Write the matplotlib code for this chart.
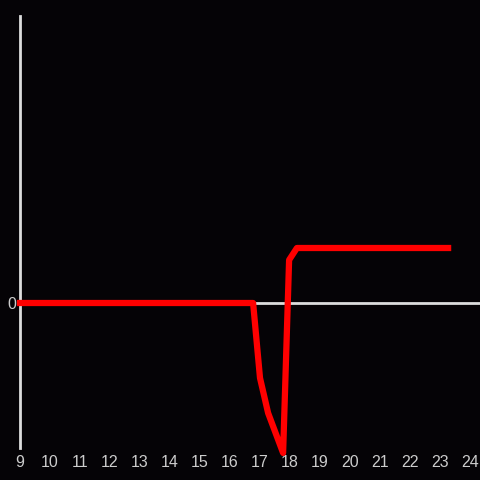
import matplotlib
matplotlib.use("Agg")
import matplotlib.pyplot as plt

# hours of day and the measured value
hours = [9.0, 16.77, 17.0, 17.27, 17.77, 17.97, 18.23, 23.27]
values = [0, 0, -75, -110, -150, 43, 55, 55]
tick_hours = list(range(9, 25))

bg = "#050306"
axis_color = "#dddddd"
text_color = "#cccccc"

fig = plt.figure(figsize=(4.8, 4.8), dpi=100, facecolor=bg)
ax = fig.add_axes([20 / 480, 32 / 480, 460 / 480, 432 / 480])
ax.set_facecolor(bg)

ax.plot(hours, values, color="#ff0000", linewidth=4.5, clip_on=False, zorder=3)
ax.axhline(0, color=axis_color, linewidth=2, zorder=2)

ax.set_xlim(9, 24.333)
ax.set_ylim(-145, 287)

for side in ["top", "right", "bottom"]:
    ax.spines[side].set_visible(False)
ax.spines["left"].set_color(axis_color)
ax.spines["left"].set_linewidth(2)

ax.set_xticks(tick_hours)
ax.set_xticklabels([str(h) for h in tick_hours])
ax.set_yticks([0])
ax.set_yticklabels(["0"])
ax.tick_params(length=0, colors=text_color, labelsize=11.5, pad=5)
for lbl in ax.get_xticklabels() + ax.get_yticklabels():
    lbl.set_family("Liberation Sans")
ax.tick_params(axis="y", pad=3)

fig.savefig("out.png", dpi=100, facecolor=bg)
